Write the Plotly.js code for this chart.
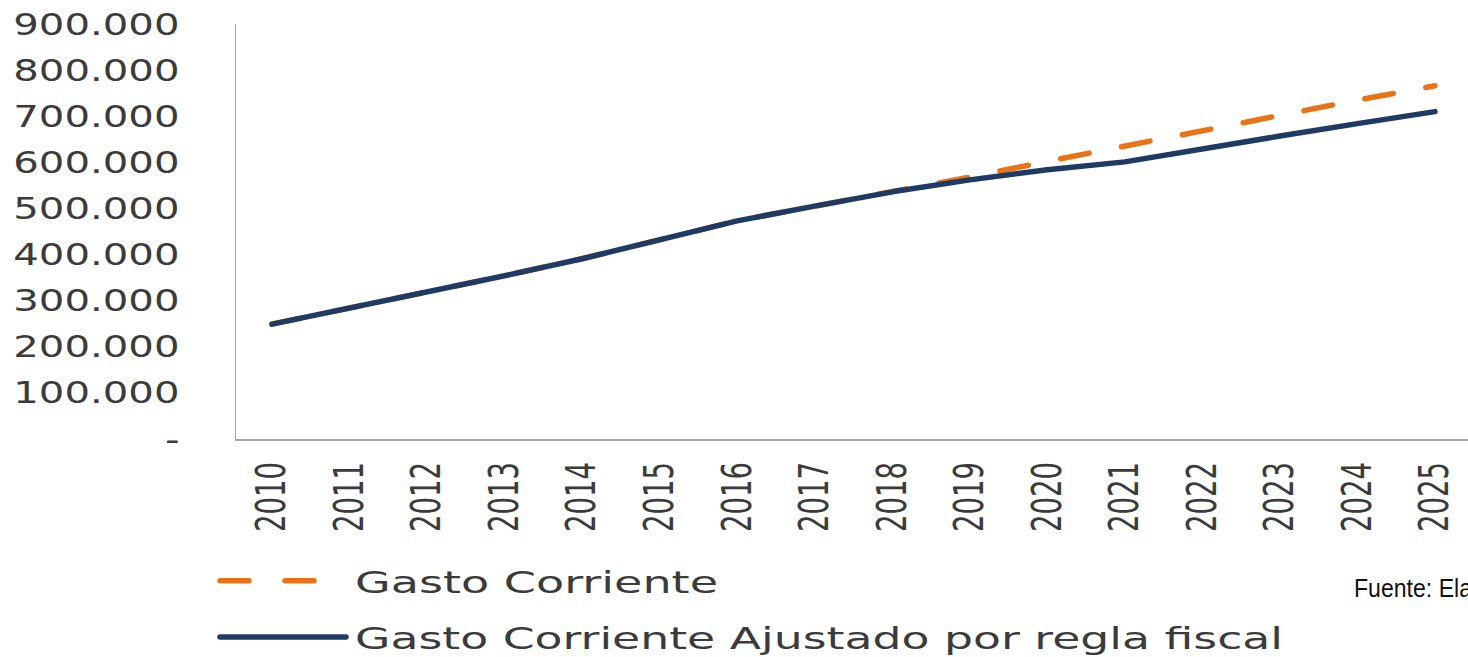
<!DOCTYPE html>
<html>
<head>
<meta charset="utf-8">
<script src="https://cdn.plot.ly/plotly-3.0.1.min.js"></script>
<style>
  html, body { margin: 0; padding: 0; background: #ffffff; }
  #chart { width: 1468px; height: 657px; }
  .scatterlayer path.js-line, .legendlines path { stroke-linecap: round; stroke-linejoin: round; }
</style>
</head>
<body>
<div id="chart"></div>
<script>
// ---- data ----
const years = ['2010','2011','2012','2013','2014','2015','2016','2017','2018','2019','2020','2021','2022','2023','2024','2025'];
const gastoCorriente = [249000, 284000, 317000, 354000, 391000, 432000, 473000, 505000, 536000, 568000, 602000, 636000, 670000, 703000, 735000, 766000];
const gastoAjustado  = [249000, 284000, 317000, 354000, 391000, 432000, 473000, 505000, 536000, 562000, 584000, 601000, 630000, 657000, 684000, 710000];
const yTickVals   = [0, 100000, 200000, 300000, 400000, 500000, 600000, 700000, 800000, 900000];
const yTickLabels = ['-', '100.000', '200.000', '300.000', '400.000', '500.000', '600.000', '700.000', '800.000', '900.000'];
const seriesNames = ['Gasto Corriente', 'Gasto Corriente Ajustado por regla fiscal'];
const sourceNote  = 'Fuente: Ela';

const ORANGE = '#EA7317';
const NAVY = '#1F3A63';
const TXT = '#3b3b3b';

const traces = [
  {
    x: years, y: gastoCorriente, name: seriesNames[0], type: 'scatter', mode: 'lines',
    line: { color: ORANGE, width: 5.5, dash: '29px,33px' },
    legendgroup: 'a', hoverinfo: 'skip'
  },
  {
    x: years, y: gastoAjustado, name: seriesNames[1], type: 'scatter', mode: 'lines',
    line: { color: NAVY, width: 5.5 },
    legendgroup: 'b', hoverinfo: 'skip'
  }
];

const layout = {
  width: 1468, height: 657,
  margin: { l: 236, r: 0, t: 24, b: 217.5, pad: 0, autoexpand: false },
  paper_bgcolor: '#ffffff', plot_bgcolor: '#ffffff',
  showlegend: true,
  xaxis: {
    type: 'category', range: [-0.4643, 15.426],
    tickmode: 'array', tickvals: years, ticktext: years,
    showline: true, linecolor: '#a6a6a6', linewidth: 1.5,
    showgrid: false, zeroline: false, ticks: '',
    tickangle: -90, ticklabelstandoff: 5,
    tickfont: { family: 'DejaVu Sans', size: 41, color: TXT },
    automargin: false, fixedrange: true
  },
  yaxis: {
    range: [0, 900000], tickmode: 'array', tickvals: yTickVals, ticktext: yTickLabels,
    showline: true, linecolor: '#a6a6a6', linewidth: 1.5,
    showgrid: false, zeroline: false, ticks: '',
    ticklabelstandoff: 49,
    tickfont: { family: 'DejaVu Sans', size: 30, color: TXT },
    automargin: false, fixedrange: true
  },
  legend: {
    xref: 'container', yref: 'container',
    x: 215 / 1468, y: 1 - 554 / 657, xanchor: 'left', yanchor: 'top',
    bgcolor: 'rgba(0,0,0,0)', borderwidth: 0,
    font: { family: 'DejaVu Sans', size: 31, color: TXT },
    itemwidth: 126, tracegroupgap: 13, traceorder: 'grouped',
    itemclick: false, itemdoubleclick: false
  },
  annotations: [{
    text: sourceNote, xref: 'paper', yref: 'paper',
    x: (1352 - 236) / 1232, y: (439.5 - 589) / 415.5,
    xanchor: 'left', yanchor: 'middle', showarrow: false,
    font: { family: 'Liberation Sans Narrow, Liberation Sans', size: 25, color: '#111111' }
  }]
};

function fitText(selector, lengthFn) {
  document.querySelectorAll(selector).forEach(function (t) {
    const L = lengthFn(t);
    if (L > 0) {
      t.setAttribute('lengthAdjust', 'spacingAndGlyphs');
      t.setAttribute('textLength', L);
    }
  });
}

function stretchAll() {
  fitText('#chart .ytick text', function (t) { return t.getComputedTextLength() * 1.34; });
  fitText('#chart .xtick text', function () { return 70; });
  const legendTargets = {};
  legendTargets[seriesNames[0]] = 363;
  legendTargets[seriesNames[1]] = 928;
  document.querySelectorAll('#chart .legendtext').forEach(function (t) {
    const x0 = parseFloat(t.getAttribute('x') || '0');
    t.setAttribute('x', x0 + 4);
  });
  fitText('#chart .legendtext', function (t) { return legendTargets[t.textContent] || t.getComputedTextLength(); });
  // legend dashed sample: two dashes, ending in a gap as in the reference
  document.querySelectorAll('#chart .legendlines path').forEach(function (p) {
    const da = p.style.strokeDasharray;
    if (da && da !== 'none') { p.style.strokeDasharray = '29px,36px'; }
  });
  // source note: keep its left edge where the reference has it
  document.querySelectorAll('#chart .annotation-text').forEach(function (t) {
    const w = t.getComputedTextLength();
    const target = 118;
    const x0 = parseFloat(t.getAttribute('x') || '0');
    t.setAttribute('x', x0 + (target - w) / 2);
    t.setAttribute('lengthAdjust', 'spacingAndGlyphs');
    t.setAttribute('textLength', target);
  });
  document.querySelectorAll('#chart .legend [clip-path], #chart .legend').forEach(function (e) {
    e.removeAttribute('clip-path');
  });
}

Plotly.newPlot('chart', traces, layout, { staticPlot: true, displayModeBar: false }).then(stretchAll);
</script>
</body>
</html>
